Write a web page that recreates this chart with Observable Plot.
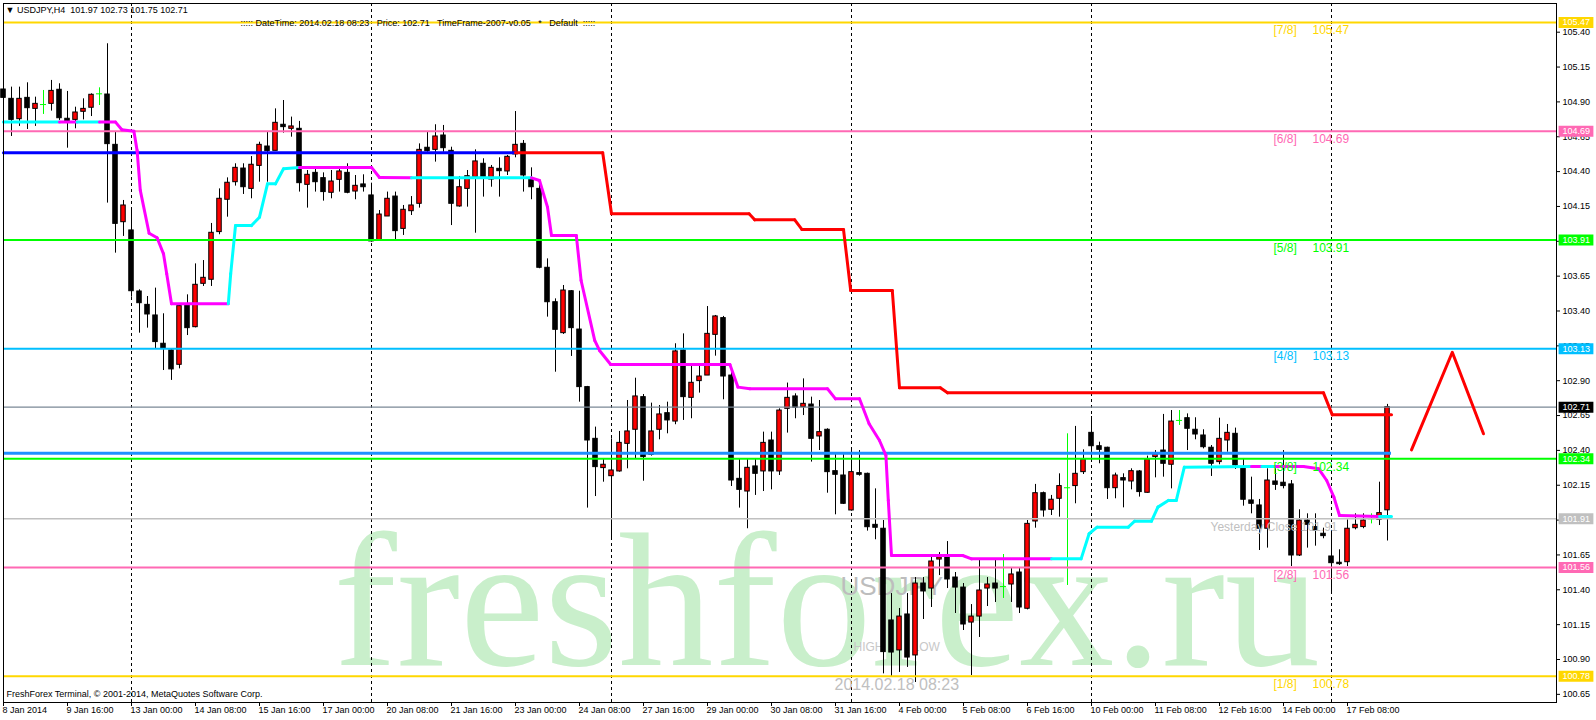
<!DOCTYPE html>
<html><head><meta charset="utf-8">
<script src="https://cdn.jsdelivr.net/npm/d3@7"></script>
<script src="https://cdn.jsdelivr.net/npm/@observablehq/plot@0.6"></script>
<style>
html,body{margin:0;padding:0;background:#fff;}
svg{display:block;}
</style></head><body><div id="chart"></div>
<script>
// ---- USDJPY H4 candles (bar index 0 = 8 Jan 2014 08:00) ----
const opens = [104.989,104.922,104.776,104.929,104.850,104.881,104.886,104.987,104.779,104.771,
104.829,104.858,104.958,104.953,104.592,104.037,103.978,103.540,103.444,103.368,
103.165,103.117,103.014,103.440,103.284,103.595,103.624,103.966,104.198,104.324,
104.422,104.276,104.441,104.580,104.549,104.736,104.707,104.707,104.305,104.391,
104.353,104.248,104.341,104.391,104.257,104.308,104.229,103.906,104.078,104.221,
103.989,104.116,104.169,104.571,104.556,104.659,104.549,104.150,104.276,104.360,
104.456,104.343,104.420,104.401,104.523,104.599,104.341,104.276,103.710,103.463,
103.241,103.542,103.267,102.854,102.483,102.273,102.215,102.249,102.447,102.548,
102.782,102.368,102.548,102.667,102.607,103.117,102.777,102.897,102.937,103.229,
103.349,102.937,102.196,102.105,102.285,102.249,102.471,102.249,102.698,102.787,
102.710,102.729,102.500,102.548,102.251,102.220,101.969,102.237,102.232,101.866,
101.838,101.180,100.965,101.223,100.929,101.445,101.409,101.617,101.632,101.488,
101.416,101.165,101.208,101.409,101.445,101.423,101.438,101.524,101.264,101.890,
102.093,101.974,102.053,102.132,102.144,102.244,102.526,102.430,102.419,102.129,
102.201,102.177,102.249,102.096,102.352,102.399,102.297,102.615,102.631,102.548,
102.507,102.419,102.316,102.471,102.519,102.275,102.041,102.005,101.838,102.177,
102.168,102.156,101.646,101.897,101.850,101.802,101.639,101.594,101.598,101.842,
101.850,101.909,101.902,101.97];
const highs = [105.113,105.006,105.006,105.037,104.934,104.982,105.054,105.030,104.975,104.862,
104.922,104.958,105.001,105.317,104.683,104.193,104.121,103.552,103.504,103.564,
103.380,103.129,103.451,103.516,103.738,103.762,104.028,104.276,104.355,104.456,
104.456,104.508,104.611,104.683,104.850,104.910,104.791,104.760,104.408,104.432,
104.391,104.408,104.420,104.456,104.372,104.377,104.317,104.121,104.253,104.253,
104.157,104.221,104.599,104.683,104.736,104.731,104.575,104.365,104.408,104.556,
104.492,104.444,104.499,104.516,104.831,104.623,104.427,104.312,103.774,103.487,
103.583,103.547,103.542,102.859,102.567,102.340,102.483,102.536,102.758,102.918,
102.801,102.739,102.722,102.746,103.165,103.236,103.002,103.002,103.432,103.368,
103.361,102.978,102.340,102.340,102.340,102.531,102.531,102.698,102.883,102.806,
102.913,102.782,102.758,102.555,102.375,102.371,102.399,102.399,102.237,102.124,
101.897,101.373,101.266,101.373,101.488,101.488,101.632,101.667,101.746,101.524,
101.445,101.294,101.610,101.488,101.610,101.653,101.553,101.553,101.897,102.156,
102.101,102.077,102.232,102.519,102.572,102.404,102.643,102.459,102.423,102.237,
102.232,102.268,102.256,102.359,102.399,102.658,102.686,102.686,102.662,102.634,
102.548,102.435,102.631,102.586,102.560,102.340,102.208,102.048,102.268,102.268,
102.399,102.184,101.974,101.945,101.945,101.842,101.826,101.687,101.902,101.945,
101.945,101.945,102.172,102.73];
const lows = [104.826,104.652,104.724,104.702,104.724,104.810,104.834,104.767,104.568,104.707,
104.771,104.795,104.874,104.174,103.815,103.935,103.499,103.241,103.277,103.129,
102.973,102.902,102.985,103.224,103.279,103.576,103.576,103.947,104.073,104.296,
104.236,104.205,104.324,104.324,104.549,104.676,104.647,104.253,104.138,104.253,
104.188,104.205,104.253,104.241,104.198,104.253,103.894,103.906,104.078,103.911,
103.942,104.085,104.138,104.539,104.468,104.539,104.013,104.145,104.145,103.958,
104.217,104.288,104.217,104.372,104.499,104.253,104.198,103.703,103.356,102.961,
103.232,103.074,102.746,101.986,102.069,102.172,101.754,102.244,102.268,102.340,
102.179,102.359,102.476,102.519,102.584,102.615,102.627,102.811,102.937,103.076,
102.763,102.141,101.986,101.838,102.077,102.105,102.117,102.220,102.524,102.627,
102.650,102.316,102.399,102.093,101.938,102.012,101.964,102.215,101.821,101.759,
100.797,100.771,100.807,100.843,100.735,101.187,101.273,101.502,101.409,101.230,
101.108,100.785,101.058,101.280,101.309,101.338,101.309,101.230,101.256,101.842,
101.921,101.933,101.921,101.431,102.017,102.227,102.323,102.304,102.048,102.053,
101.988,102.117,102.065,102.093,102.203,102.208,102.124,102.579,102.399,102.476,
102.411,102.213,102.297,102.387,102.263,102.000,101.945,101.682,101.699,102.113,
102.124,101.567,101.639,101.699,101.713,101.766,101.371,101.575,101.567,101.830,
101.838,101.873,101.861,101.75];
const closes = [104.929,104.771,104.922,104.855,104.886,104.881,104.979,104.783,104.762,104.824,
104.850,104.951,104.958,104.597,104.025,104.157,103.542,103.456,103.375,103.177,
103.129,102.981,103.435,103.277,103.588,103.638,103.961,104.205,104.320,104.427,
104.288,104.449,104.592,104.547,104.750,104.719,104.724,104.317,104.377,104.324,
104.253,104.329,104.401,104.248,104.298,104.288,103.899,104.092,104.205,103.973,
104.126,104.157,104.556,104.547,104.652,104.568,104.169,104.288,104.367,104.473,
104.360,104.427,104.403,104.506,104.592,104.372,104.288,103.710,103.463,103.265,
103.547,103.277,102.854,102.471,102.280,102.297,102.256,102.454,102.536,102.787,
102.352,102.536,102.658,102.615,103.110,102.782,102.885,102.930,103.236,103.361,
102.930,102.184,102.117,102.275,102.232,102.454,102.249,102.686,102.777,102.706,
102.734,102.483,102.531,102.244,102.225,102.017,102.244,102.225,101.849,101.845,
100.953,100.950,101.208,100.914,101.445,101.388,101.603,101.632,101.474,101.416,
101.151,101.208,101.395,101.438,101.409,101.423,101.510,101.273,101.873,102.093,
101.969,102.046,102.144,102.132,102.232,102.335,102.430,102.404,102.129,102.220,
102.184,102.251,102.101,102.335,102.371,102.304,102.607,102.615,102.555,102.514,
102.423,102.304,102.483,102.526,102.292,102.046,102.017,101.838,102.184,102.153,
102.144,101.646,101.897,101.866,101.826,101.785,101.591,101.584,101.838,101.866,
101.897,101.909,101.950,102.71];

// ---- time axis labels (every 8 bars) ----
const tickLabels = ["8 Jan 2014","9 Jan 16:00","13 Jan 00:00","14 Jan 08:00","15 Jan 16:00","17 Jan 00:00",
"20 Jan 08:00","21 Jan 16:00","23 Jan 00:00","24 Jan 08:00","27 Jan 16:00","29 Jan 00:00","30 Jan 08:00",
"31 Jan 16:00","4 Feb 00:00","5 Feb 08:00","6 Feb 16:00","10 Feb 00:00","11 Feb 08:00","12 Feb 16:00",
"14 Feb 00:00","17 Feb 08:00"];
const weekStarts = [16, 46, 76, 106, 136, 166];
const priceTicks = [105.40,105.15,104.90,104.65,104.40,104.15,103.90,103.65,103.40,103.15,
102.90,102.65,102.40,102.15,101.90,101.65,101.40,101.15,100.90,100.65];

// ---- Murrey levels ----
const levelNames = ["[7/8]","[6/8]","[5/8]","[4/8]","[3/8]","[2/8]","[1/8]"];
const levelValues = [105.47,104.69,103.91,103.13,102.34,101.56,100.78];
const pivotValue = 102.38;
const yesterdayClose = 101.91;

// ---- trend (cyan up / magenta down) indicator vertices ----
const trendK = [0,7,9.2,12,14,14.8,16.3,16.7,17.1,18.2,19.2,20,20.4,21,28.1,28.4,29,31,32,33,34,35,37,46,47,51,66,67,68,68.5,
71.6,72.2,73.9,74.5,75.9,90.8,91.8,93.3,103,104,107,108.2,109.5,110.3,110.6,111,119.9,121,131,134.7,135.7,136.7,140.6,141.4,
143.5,144.3,145.6,146.6,147.6,156,157.3,159,162.5,164.4,165.4,166.3,167,172,173.5];
const trendP = [104.755,104.755,104.755,104.755,104.755,104.700,104.690,104.552,104.265,103.958,103.925,103.810,103.667,103.452,
103.452,103.667,104.013,104.013,104.073,104.312,104.312,104.420,104.430,104.430,104.358,104.355,104.355,104.336,104.145,103.942,
103.942,103.619,103.189,103.117,103.016,103.016,102.854,102.842,102.842,102.770,102.770,102.591,102.471,102.364,102.041,101.646,
101.646,101.622,101.622,101.622,101.802,101.849,101.849,101.892,101.892,101.993,102.041,102.041,102.280,102.285,102.285,102.285,
102.285,102.268,102.184,102.065,101.933,101.926,101.926];
const trendDir = ["up","dn","up","dn","dn","dn","dn","dn","dn","dn","dn","dn","dn","dn",
"up","up","up","up","up","up","up","up","dn","dn","dn","up",
"dn","dn","dn","dn","dn","dn","dn","dn","dn","dn","dn","dn","dn","dn","dn","dn","dn","dn","dn","dn","dn","dn",
"up","up","up","up","up","up","up","up","up","up","up","dn","up",
"dn","dn","dn","dn","dn","dn","up","up"];

// ---- trailing stop line vertices ----
const stopK = [0,64,74.9,76,93.2,93.9,98.9,99.8,105,105.9,111.1,112,117.1,118,165,166.1,173.5];
const stopP = [104.535,104.535,104.535,104.097,104.097,104.054,104.054,103.985,103.985,103.547,103.547,102.849,102.849,102.813,102.813,102.655,102.655];
const stopSide = ["buy","sell","sell","sell","sell","sell","sell","sell","sell","sell","sell","sell","sell","sell","sell","sell","sell"];

// ---- forecast arrow ----
const arrowK = [176, 181.1, 185];
const arrowP = [102.404, 103.104, 102.519];

// ---------- styles ----------
const levelColor = {"[7/8]":"#FFD700","[6/8]":"#FF69B4","[5/8]":"#00FF00","[4/8]":"#00BFFF","[3/8]":"#00FF00","[2/8]":"#FF69B4","[1/8]":"#FFD700"};
const trendColor = {up:"#00FFFF", dn:"#FF00FF"};
const stopColor = {buy:"#0000FF", sell:"#FF0000"};
const FONT = "Liberation Sans, Arial, sans-serif";

// ---------- build tables ----------
const bars = opens.map((o,i)=>({k:i, open:o, high:highs[i], low:lows[i], close:closes[i], doji:o===closes[i]}));
const last = bars[bars.length-1];
const trendSegs = trendK.slice(0,-1).map((k,i)=>({x1:k, y1:trendP[i], x2:trendK[i+1], y2:trendP[i+1], c:trendColor[trendDir[i]]}));
const stopSegs = stopK.slice(0,-1).map((k,i)=>({x1:k, y1:stopP[i], x2:stopK[i+1], y2:stopP[i+1], c:stopColor[stopSide[i]]}));
const levels = levelNames.map((n,i)=>({name:n, value:levelValues[i], c:levelColor[n]}));
const arrow = arrowK.map((k,i)=>({k, p:arrowP[i]}));
const ticks = tickLabels.map((t,i)=>({k:i*8, t}));
const boxes = [
  ...levels.map(l=>({value:l.value, c:l.c})),
  {value:last.close, c:"#000000"},
  {value:yesterdayClose, c:"#C0C0C0"}
];
const yMin = 100.5915, yMax = 105.6059;

function label(text, x, y, opts={}) {
  return Plot.text([text], {frameAnchor:"top-left", dx:x-3, dy:y-3, text:d=>d, textAnchor:"start", fontFamily:FONT, ...opts});
}

const lastBar = bars.length - 1 + 0.5;

const chart = Plot.plot({
  width: 1596, height: 720,
  marginLeft: 3, marginRight: 40, marginTop: 3, marginBottom: 18,
  x: {type:"linear", domain: [0, 194.125], axis: null},
  y: {type:"linear", domain: [yMin, yMax], axis: null},
  color: {type: "identity"},
  style: {fontFamily: FONT, fontSize: "9px", background: "white", color: "black"},
  marks: [
    // watermark
    label("freshforex.ru", 333, 664, {fontSize:190, fontFamily:"Liberation Serif, Times New Roman, serif", fill:"#C9EFCB", lineAnchor:"bottom"}),
    // weekly separators
    Plot.ruleX(weekStarts, {x:d=>d, stroke:"#000", strokeWidth:1, strokeDasharray:"3,3"}),
    // overlay info texts (behind candles)
    label("USDJPY", 840, 586, {fontSize:26, fill:"#BDBDBD", lineAnchor:"middle"}),
    label("HIGH", 853, 647, {fontSize:12, fill:"#C8C8C8", lineAnchor:"middle"}),
    label("LOW", 912, 647, {fontSize:12, fill:"#C8C8C8", lineAnchor:"middle"}),
    label("2014.02.18 08:23", 834, 684, {fontSize:16, fill:"#C0C0C0", lineAnchor:"middle"}),
    // candles
    Plot.ruleX(bars, {x:"k", y1:"low", y2:"high", stroke:d=>d.doji?"#00FF00":"#000000", strokeWidth:1}),
    Plot.rect(bars.filter(d=>!d.doji), {x1:d=>d.k-0.28, x2:d=>d.k+0.28, y1:"open", y2:"close",
      fill:d=>d.close>d.open?"#FF0000":"#000000", stroke:"#000000", strokeWidth:1}),
    Plot.ruleY(bars.filter(d=>d.doji), {y:"open", x1:d=>d.k-0.38, x2:d=>d.k+0.38, stroke:"#00FF00", strokeWidth:1}),
    // horizontal lines
    Plot.ruleY([yesterdayClose], {y:d=>d, stroke:"#C0C0C0", strokeWidth:1.5}),
    Plot.ruleY([last.close], {y:d=>d, stroke:"#7A8896", strokeWidth:1.2}),
    Plot.ruleY(levels, {y:"value", stroke:"c", strokeWidth:2}),
    Plot.ruleY([pivotValue], {y:d=>d, x1:0, x2:lastBar, stroke:"#1E90FF", strokeWidth:3}),
    // indicators
    Plot.link(stopSegs, {x1:"x1", y1:"y1", x2:"x2", y2:"y2", stroke:"c", strokeWidth:3, strokeLinecap:"round"}),
    Plot.link(trendSegs, {x1:"x1", y1:"y1", x2:"x2", y2:"y2", stroke:"c", strokeWidth:3, strokeLinecap:"round"}),
    Plot.line(arrow, {x:"k", y:"p", stroke:"#FF0000", strokeWidth:3}),
    // level labels
    Plot.text(levels, {y:"value", text:"name", frameAnchor:"right", dx:-283, dy:8, textAnchor:"start", fill:"c", fontSize:12}),
    Plot.text(levels, {y:"value", text:d=>d.value.toFixed(2), frameAnchor:"right", dx:-244, dy:8, textAnchor:"start", fill:"c", fontSize:12}),
    Plot.text([yesterdayClose], {y:d=>d, text:d=>"Yesterday Close "+d.toFixed(2), frameAnchor:"right", dx:-346, dy:8, textAnchor:"start", fill:"#C0C0C0", fontSize:12}),
    // price axis
    Plot.axisY({anchor:"right", ticks:priceTicks, tickFormat:d=>d.toFixed(2), tickSize:3, tickPadding:3, fontSize:9, stroke:"#000"}),
    Plot.ruleY(boxes, {y:"value", x1:194.45, x2:198.8, stroke:"c", strokeWidth:11}),
    Plot.text(boxes, {y:"value", text:d=>d.value.toFixed(2), frameAnchor:"right", dx:6, textAnchor:"start", fill:"#FFFFFF", fontSize:9}),
    // time axis
    Plot.ruleX(ticks, {x:"k", y1:yMin, y2:yMin, insetBottom:-4, stroke:"#000"}),
    Plot.text(ticks, {x:"k", text:"t", frameAnchor:"bottom", dy:10, dx:-1, textAnchor:"start", fontSize:9}),
    // header / footer texts
    label("\u25BC USDJPY,H4  " + [last.open,last.high,last.low,last.close].map(v=>v.toFixed(2)).join(" "), 5, 10, {fontSize:9, lineAnchor:"middle"}),
    label("::::: DateTime: 2014.02.18 08:23   Price: " + last.close.toFixed(2) + "   TimeFrame-2007-v0.05   *   Default  :::::", 240, 23, {fontSize:9, lineAnchor:"middle"}),
    label("FreshForex Terminal, \u00A9 2001-2014, MetaQuotes Software Corp.", 6, 694, {fontSize:9, lineAnchor:"middle"}),
    Plot.frame({stroke:"#000"})
  ]
});
document.getElementById("chart").appendChild(chart);
</script>
</body></html>
